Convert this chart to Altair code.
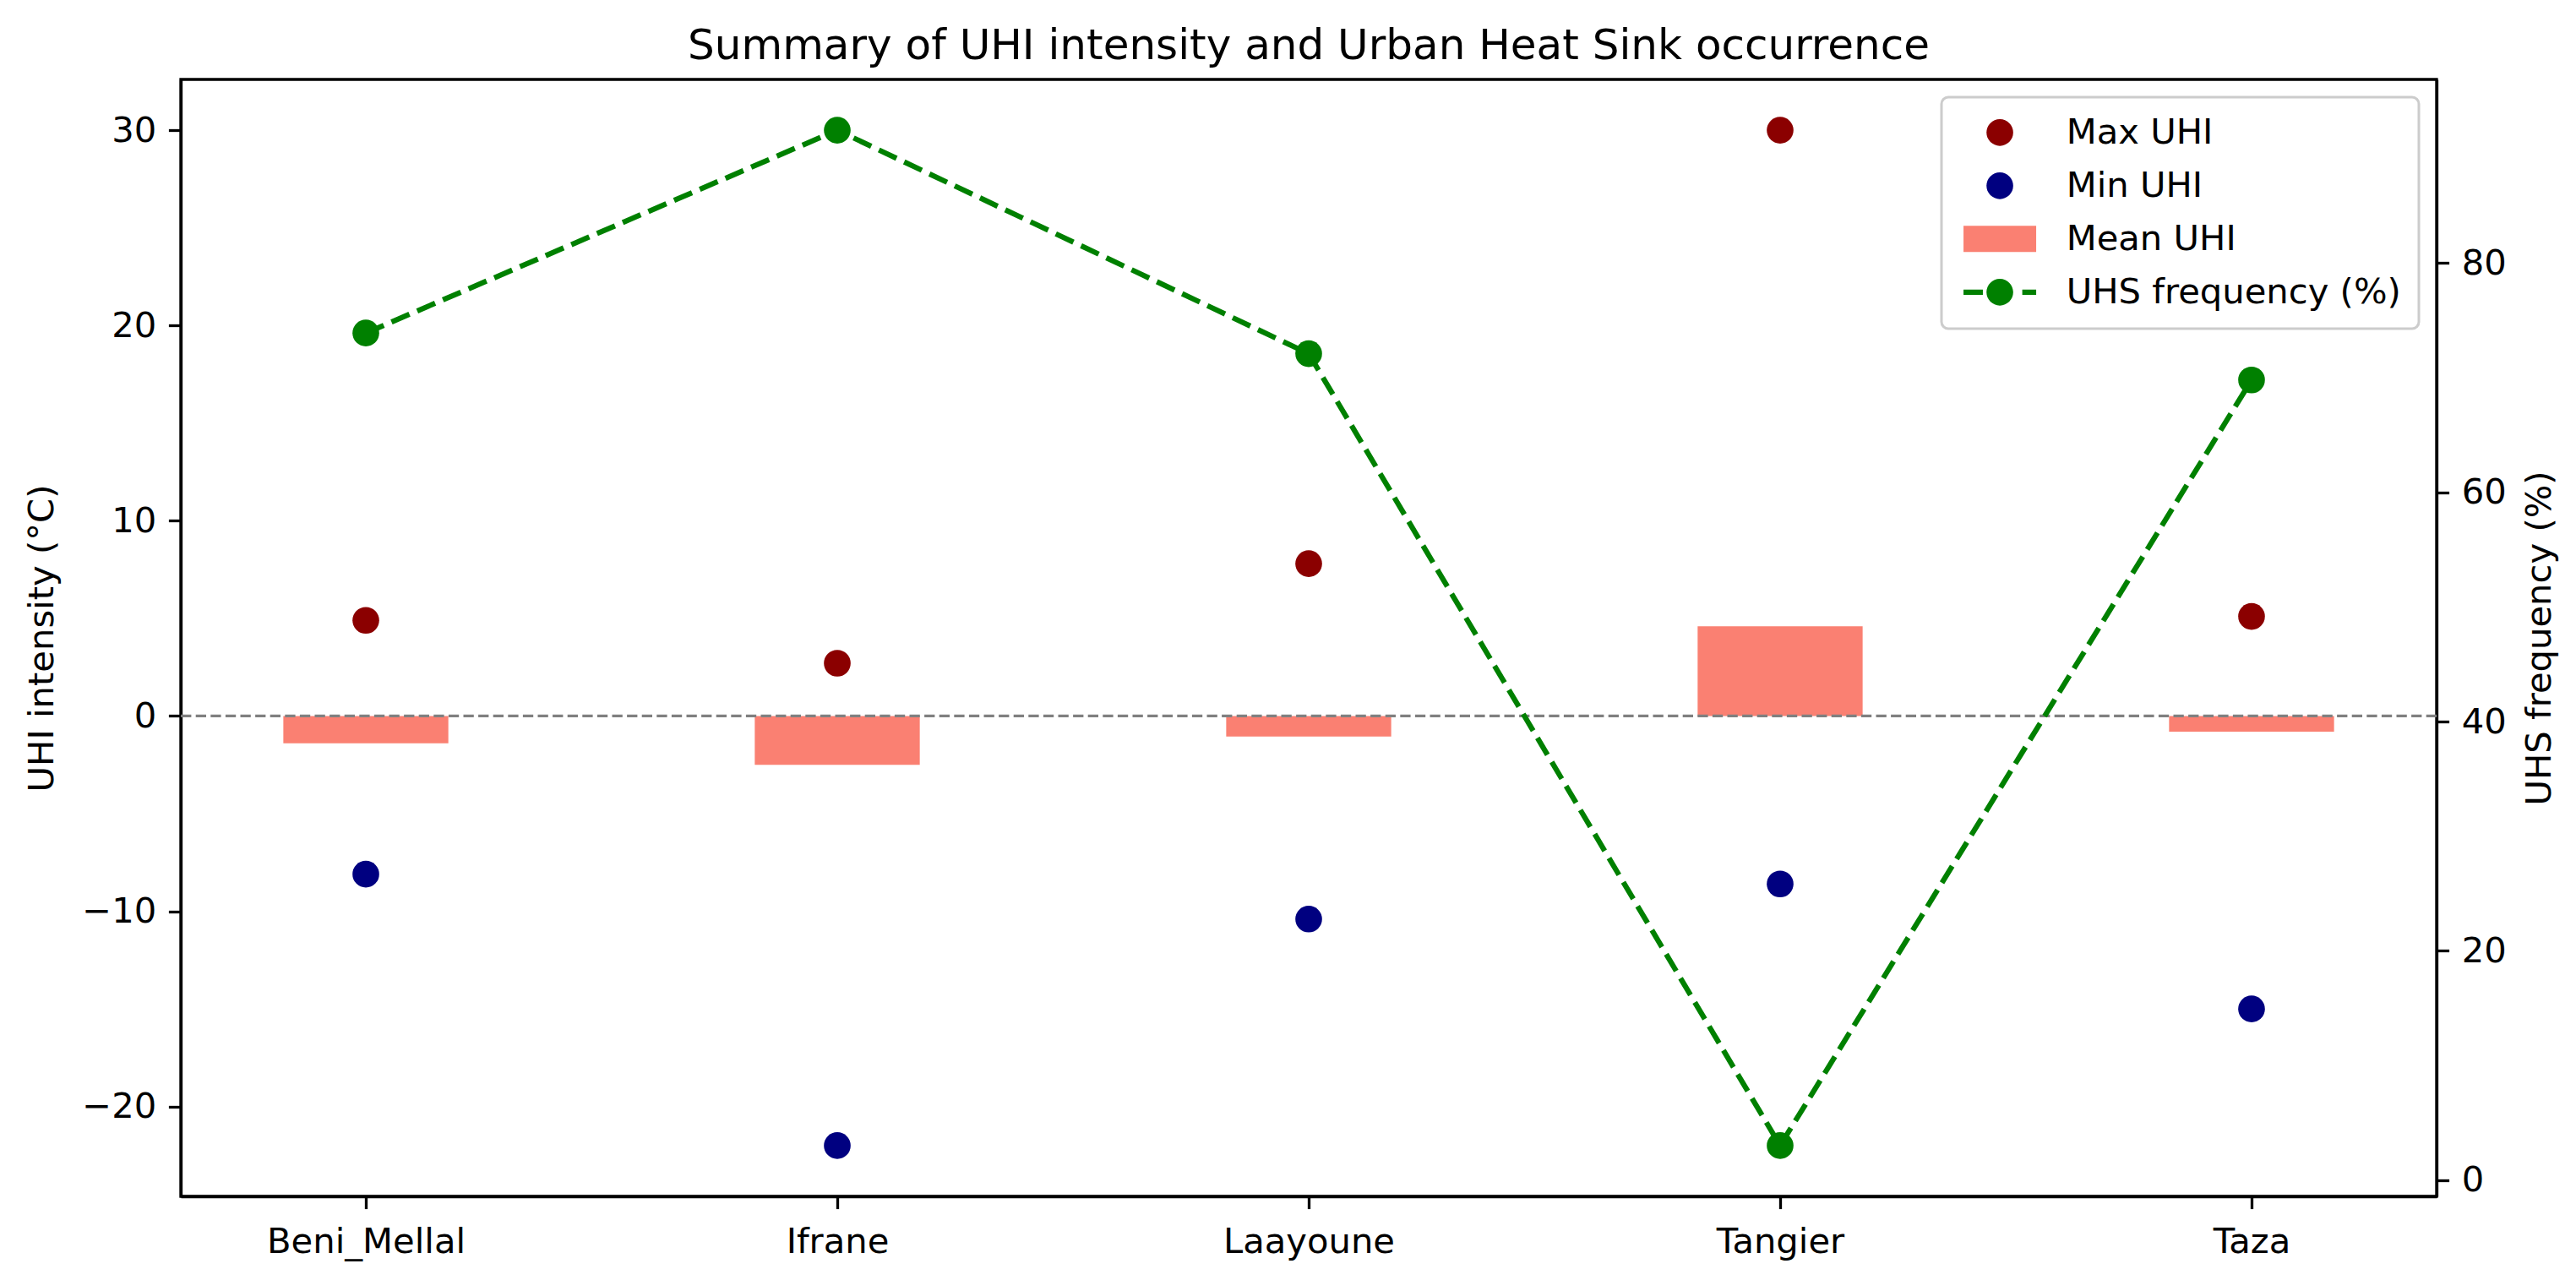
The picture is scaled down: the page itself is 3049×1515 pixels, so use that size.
import altair as alt
import pandas as pd

# ---- data ----
cities = ["Beni_Mellal", "Ifrane", "Laayoune", "Tangier", "Taza"]
max_uhi = [4.9, 2.7, 7.8, 30.0, 5.1]
min_uhi = [-8.1, -22.0, -10.4, -8.6, -15.0]
mean_uhi = [-1.4, -2.5, -1.05, 4.6, -0.8]
uhs_freq = [73.9, 91.6, 72.1, 3.0, 69.8]

series_names = ["Max UHI", "Min UHI", "Mean UHI", "UHS frequency (%)"]
series_colors = ["#8b0000", "#000080", "#fa8072", "#008000"]
left_ticks = [-20, -10, 0, 10, 20, 30]
right_ticks = [0, 20, 40, 60, 80]

df = pd.DataFrame({"city": cities, "max": max_uhi, "min": min_uhi,
                   "mean": mean_uhi, "freq": uhs_freq})
zero_df = pd.DataFrame({"zero": [0]})
legend_df = pd.DataFrame({"series": series_names})

# ---- geometry / style ----
W, H = 2670, 1322
FONT = "DejaVu Sans"
FS = 41.7
LW = 3.3
BAR_W = 0.35
XPAD = BAR_W / 2 + 0.05 * (len(cities) - 1 + BAR_W)
step = W / (len(cities) - 1 + 2 * XPAD)

lo = min(min(min_uhi), min(mean_uhi), 0)
hi = max(max(max_uhi), max(mean_uhi), 0)
m = 0.05 * (hi - lo)
left_domain = [lo - m, hi + m]
flo, fhi = min(uhs_freq), max(uhs_freq)
fm = 0.05 * (fhi - flo)
right_domain = [flo - fm, fhi + fm]

x_scale = alt.Scale(type="point", domain=cities, padding=XPAD)
x_axis = alt.Axis(title=None, labelAngle=0, tickSize=14.6, tickWidth=LW,
                  tickColor="black", domainColor="black", domainWidth=LW,
                  labelFontSize=FS, labelColor="black", labelFont=FONT,
                  labelPadding=19, labelLimit=1000, grid=False)
X = alt.X("city:N", scale=x_scale, axis=x_axis)

left_scale = alt.Scale(domain=left_domain, nice=False, zero=False)
left_axis = alt.Axis(title="UHI intensity (°C)", values=left_ticks, orient="left",
                     tickSize=14.6, tickWidth=LW, tickColor="black",
                     domainColor="black", domainWidth=LW, labelFontSize=FS,
                     labelColor="black", labelFont=FONT, labelPadding=14.6,
                     titleFontSize=FS, titleFont=FONT, titleFontWeight="normal",
                     titleColor="black", titlePadding=25, grid=False)


def Y(field):
    return alt.Y(field, scale=left_scale, axis=left_axis)


bars = alt.Chart(df).mark_bar(color="#fa8072", size=BAR_W * step).encode(
    x=X, y=Y("mean:Q"), y2=alt.datum(0))

zero_line = alt.Chart(zero_df).mark_rule(
    color="#808080", strokeWidth=LW, strokeDash=[12.3, 5.3]).encode(
    y=Y("zero:Q"))

max_pts = alt.Chart(df).mark_point(filled=True, size=1000, color="#8b0000",
                                   opacity=1).encode(x=X, y=Y("max:Q"))
min_pts = alt.Chart(df).mark_point(filled=True, size=1000, color="#000080",
                                   opacity=1).encode(x=X, y=Y("min:Q"))

# legend symbols (custom paths in units of sqrt(size)/2)
circle = "M0.72,0 A1,1 0 1,0 2.72,0 A1,1 0 1,0 0.72,0 Z"
rect = "M-1,-0.98 H4.44 V0.98 H-1 Z"
line_pt = ("M-1,-0.2 H0.45 V0.2 H-1 Z " + circle +
           " M3.4,-0.2 H4.44 V0.2 H3.4 Z")
shapes = [circle, circle, rect, line_pt]

leg = alt.Legend(title=None, orient="top-right")
legend_layer = alt.Chart(legend_df).mark_point(filled=True, opacity=0).encode(
    x=alt.value(0), y=alt.value(0),
    color=alt.Color("series:N", scale=alt.Scale(domain=series_names,
                                                range=series_colors), legend=leg),
    shape=alt.Shape("series:N", scale=alt.Scale(domain=series_names,
                                                range=shapes), legend=leg))

left = alt.layer(bars, zero_line, max_pts, min_pts, legend_layer)

right_axis = alt.Axis(title="UHS frequency (%)", values=right_ticks, orient="right",
                      tickSize=14.6, tickWidth=LW, tickColor="black",
                      domainColor="black", domainWidth=LW, labelFontSize=FS,
                      labelColor="black", labelFont=FONT, labelPadding=14.6,
                      titleFontSize=FS, titleFont=FONT, titleFontWeight="normal",
                      titleColor="black", titleAngle=270, titleBaseline="top",
                      titlePadding=19, grid=False)

freq_line = alt.Chart(df).mark_line(
    color="#008000", strokeWidth=6.25, strokeDash=[23.1, 10],
    point=alt.OverlayMarkDef(filled=True, size=1000, color="#008000", opacity=1)
).encode(x=X, y=alt.Y("freq:Q", scale=alt.Scale(domain=right_domain, nice=False,
                                                zero=False), axis=right_axis))

chart = alt.layer(left, freq_line).resolve_scale(y="independent").properties(
    width=W, height=H,
    title=alt.TitleParams("Summary of UHI intensity and Urban Heat Sink occurrence",
                          fontSize=50, font=FONT, fontWeight="normal",
                          anchor="middle", offset=25, baseline="alphabetic",
                          dy=54, color="black"),
    autosize=alt.AutoSizeParams(type="none"),
    padding={"left": 214, "top": 94, "right": 165, "bottom": 99},
).configure(font=FONT, background="white").configure_view(
    stroke="black", strokeWidth=LW
).configure_legend(
    padding=21, offset=21, fillColor="white", strokeColor="#cccccc",
    strokeWidth=3, cornerRadius=8, labelFontSize=FS, labelFont=FONT,
    labelColor="black", labelLimit=2000, symbolSize=1000, symbolStrokeWidth=0,
    symbolOpacity=1, labelOffset=85, rowPadding=20
)

chart.save("out.html", embed_options={"renderer": "svg", "actions": False})
